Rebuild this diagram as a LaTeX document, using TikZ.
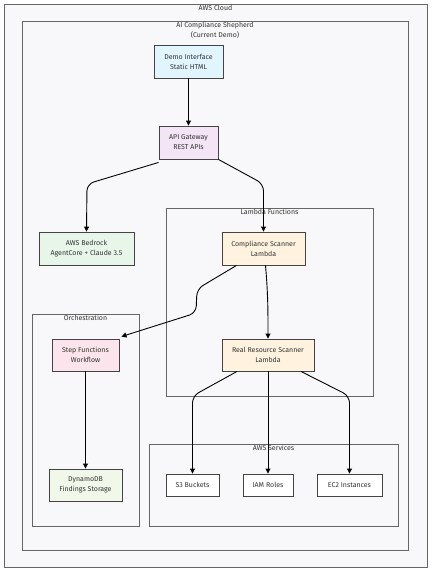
\documentclass[tikz,border=0pt]{standalone}
\usepackage{fontspec}
\setmainfont{Fira Sans}
\usetikzlibrary{arrows.meta,shadows}
\definecolor{txt}{HTML}{333333}
\definecolor{clfill}{HTML}{F8F8FA}
\definecolor{clborder}{HTML}{666666}
\definecolor{ndborder}{HTML}{444444}
\definecolor{cdemo}{HTML}{E1F5FE}
\definecolor{capi}{HTML}{F3E5F5}
\definecolor{cbed}{HTML}{E8F5E9}
\definecolor{clam}{HTML}{FFF3E0}
\definecolor{cstep}{HTML}{FCE4EC}
\definecolor{cdyn}{HTML}{F1F8E9}
\tikzset{
  cluster/.style={draw=clborder, fill=clfill, line width=0.9pt},
  clabel/.style={text=txt, font=\fontsize{7}{10}\selectfont, align=center, inner sep=0pt, anchor=north},
  box/.style={draw=ndborder, line width=0.9pt, text=txt, align=center,
     font=\fontsize{7}{10}\selectfont, inner sep=0pt,
     drop shadow={shadow xshift=1pt, shadow yshift=-1pt, opacity=0.25}},
  arr/.style={draw=black, line width=0.9pt, -{Triangle[length=5pt,width=5pt]}, rounded corners=7pt}
}
\begin{document}
\begin{tikzpicture}[x=1pt,y=-1pt]
\useasboundingbox[fill=white] (0,0) rectangle (432,573);
% clusters
\draw[cluster] (4,4) rectangle (427,567);
\node[clabel] (lcloud) at (215.5,5) {AWS Cloud};
\draw[cluster] (22,21) rectangle (408,550);
\node[clabel] (lshep) at (215,22) {AI Compliance Shepherd\\(Current Demo)};
\draw[cluster] (166,208) rectangle (373,396);
\node[clabel] (llam) at (269.5,209) {Lambda Functions};
\draw[cluster] (32,314) rectangle (139,526);
\node[clabel] (lorch) at (85.5,315) {Orchestration};
\draw[cluster] (149,444) rectangle (398,526);
\node[clabel] (lsvc) at (273.5,445) {AWS Services};
% nodes
\node[box, fill=cdemo, minimum width=69pt, minimum height=33pt] (demo) at (188.5,61.5) {Demo Interface\\Static HTML};
\node[box, fill=capi, minimum width=59pt, minimum height=33pt] (api) at (188.5,142.5) {API Gateway\\REST APIs};
\node[box, fill=cbed, minimum width=95pt, minimum height=33pt] (bed) at (86.5,248.5) {AWS Bedrock\\AgentCore + Claude 3.5};
\node[box, fill=clam, minimum width=83pt, minimum height=33pt] (comp) at (263.5,248.5) {Compliance Scanner\\Lambda};
\node[box, fill=cstep, minimum width=67pt, minimum height=32pt] (step) at (85.5,355) {Step Functions\\Workflow};
\node[box, fill=clam, minimum width=92pt, minimum height=32pt] (real) at (268,355) {Real Resource Scanner\\Lambda};
\node[box, fill=cdyn, minimum width=73pt, minimum height=32pt] (dyn) at (85.5,485) {DynamoDB\\Findings Storage};
\node[box, fill=white, minimum width=53pt, minimum height=22pt] (s3) at (192.5,485) {S3 Buckets};
\node[box, fill=white, minimum width=50pt, minimum height=22pt] (iam) at (268,485) {IAM Roles};
\node[box, fill=white, minimum width=65pt, minimum height=22pt] (ec2) at (349.5,485) {EC2 Instances};
% bend coordinates
\coordinate (b1) at (87,184);
\coordinate (b2) at (263.5,184);
\coordinate (c1) at (197,289);
\coordinate (c2) at (196,313);
\coordinate (d1) at (192.5,396);
\coordinate (d2) at (349.5,396);
% connectors
\draw[arr] (demo.south) -- (api.north);
\draw[arr] ([yshift=-3pt]api.south west) -- (b1) -- (bed.north);
\draw[arr] (api.south east) -- (b2) -- (comp.north);
\draw[arr] ([xshift=2pt]comp.south) to[out=-85,in=90] (real.north);
\draw[arr] ([xshift=-27pt]comp.south) -- (c1) -- (c2) -- ([xshift=2pt,yshift=2pt]step.north east);
\draw[arr] (step.south) -- (dyn.north);
\draw[arr] ([xshift=-31pt]real.south) -- (d1) -- (s3.north);
\draw[arr] (real.south) -- (iam.north);
\draw[arr] ([xshift=33pt]real.south) -- (d2) -- (ec2.north);
\end{tikzpicture}
\end{document}
